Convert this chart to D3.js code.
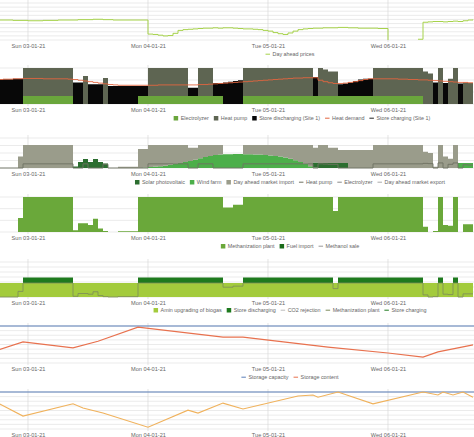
<!DOCTYPE html>
<html lang="en">
<head>
<meta charset="UTF-8">
<title>Energy system dispatch</title>
<script src="https://d3js.org/d3.v7.min.js"></script>
<style>
  body { margin: 0; background: #fff; font-family: "Liberation Sans", Arial, sans-serif; }
  text { fill: #666; font-size: 5.4px; }
</style>
</head>
<body>
<svg id="chart" width="474" height="437"></svg>
<script>
// hourly values, starting Sat 02-01-21 18:00
const dayTicks = ["2021-01-03", "2021-01-04", "2021-01-05", "2021-01-06"];

const price = [54,54,54,53,53,53,52,52,52,53,53,53,54,54,54,54,55,55,55,56,56,55,55,54,54,54,54,54,54,54,
  16,15,13,11,12,18,26,28,29,30,31,32,32,33,32,33,33,32,31,30,30,29,28,26,24,20,17,15,19,24,28,30,31,32,32,33,33,33,34,34,33,33,32,32,32,32,31,31,
  0,null,null,null,null,null,2,48,49,50,50,49,50,51,50,52,54,55];

const electrolyzer = [0,0,0,0,0,22,22,22,22,22,22,22,22,22,22,0,0,0,0,0,0,0,0,0,0,0,0,0,22,22,
  22,22,22,22,22,22,22,22,22,22,22,22,22,22,22,0,0,0,0,22,22,22,22,22,22,22,22,22,22,22,22,22,22,22,22,22,22,22,
  22,22,22,22,22,22,22,22,22,22,22,22,22,22,22,22,22,0,0,0,0,0,0,0,0,0,0,0];
const heatPump = [0,0,0,0,0,78,78,78,78,78,78,78,78,78,78,0,0,78,0,0,0,72,0,0,0,0,0,0,0,0,
  78,78,78,78,78,78,78,78,0,0,78,78,78,0,0,0,0,0,0,78,78,78,78,78,78,78,78,78,78,78,78,78,78,0,78,74,68,68,
  0,0,0,0,0,0,0,78,78,78,78,78,78,78,78,78,78,90,85,0,100,0,70,100,0,60,58,58];
const storeDischarging = [68,69,69,70,70,0,0,0,0,0,0,0,0,0,0,60,60,0,55,55,55,0,50,50,50,50,50,50,28,28,
  0,0,0,0,0,0,0,0,23,23,0,0,0,36,36,60,62,64,66,0,0,0,0,0,0,0,0,0,0,0,0,0,0,53,0,0,0,0,
  33,35,38,42,46,48,48,0,0,0,0,0,0,0,0,0,0,0,0,60,0,58,0,0,57,0,0,0];
const heatDemand = [68,69,69,70,70,71,71,71,71,70,70,70,70,70,69,68,66,64,62,60,58,56,54,53,52,52,52,52,52,52,
  52,52,53,53,53,53,53,53,53,53,54,54,55,56,57,58,59,60,61,62,
  63,64,65,66,67,68,69,70,71,72,72,73,73,73,66,62,59,57,
  57,58,60,62,65,68,70,70,70,70,70,70,69,69,68,68,67,67,66,65,64,63,62,61,60,60,59,59];

const solar = [0,0,0,0,0,0,0,0,0,0,0,0,0,0,0,6,26,39,26,39,26,20,0,0,0,0,0,0,0,0,
  0,0,0,0,0,0,0,0,0,0,0,0,0,0,0,0,0,0,0,0,0,0,0,0,0,0,0,0,0,0,0,0,0,22,22,22,22,22,
  22,22,0,0,0,0,0,0,0,0,0,0,0,0,0,0,0,0,0,0,0,0,0,0,0,0,0,0];
const wind = [0,0,0,0,0,0,0,0,0,0,0,0,0,0,0,0,0,0,0,0,0,0,0,0,0,0,0,0,0,2,
  4,6,8,10,14,18,22,26,30,36,42,48,52,56,58,60,60,61,61,60,60,59,58,56,54,52,50,46,40,34,26,18,8,2,0,0,0,0,
  0,0,0,0,0,0,0,0,0,0,0,0,0,0,0,0,0,0,0,0,0,0,0,0,22,22,22,22];
const marketImport = [0,0,0,0,50,100,100,100,100,100,100,100,100,100,100,0,0,0,0,0,0,0,0,0,5,5,5,5,82,80,
  96,94,92,90,86,82,78,74,58,52,58,52,48,44,42,0,0,0,0,40,40,41,42,44,46,48,50,54,60,66,74,82,92,64,78,78,66,66,
  56,56,78,78,78,78,78,100,100,100,100,100,100,100,100,100,100,70,65,5,100,50,40,100,0,0,0,0];
const heatPumpLoad = [0,0,0,0,0,18,18,18,18,18,18,18,18,18,18,0,0,18,0,0,0,16,0,0,0,0,0,0,0,0,
  18,18,18,18,18,18,18,18,0,0,18,18,18,0,0,0,0,0,0,18,18,18,18,18,18,18,18,18,18,18,18,18,18,0,18,17,16,16,
  0,0,0,0,0,0,0,18,18,18,18,18,18,18,18,18,18,20,19,0,22,0,16,22,0,14,13,13];

const methanization = [0,0,0,0,40,100,100,100,100,100,100,100,100,100,100,5,25,25,20,38,10,3,0,0,2,2,2,2,100,100,
  100,100,100,100,100,100,100,100,100,100,100,100,100,100,100,70,70,78,78,100,100,100,100,100,100,100,100,100,100,100,100,100,100,100,100,100,100,60,
  100,100,100,100,100,100,100,100,100,100,100,100,100,100,100,100,100,15,0,3,100,20,18,100,0,22,22,22];

const aminUpgrading = new Array(96).fill(40);
const gasStoreDischarging = [0,0,0,0,0,16,16,16,16,16,16,16,16,16,16,0,0,0,0,0,0,0,0,0,0,0,0,0,16,16,
  16,16,16,16,16,16,16,16,16,16,16,16,16,16,16,0,0,0,0,16,16,16,16,16,16,16,16,16,16,16,16,16,16,16,16,16,16,0,
  16,16,16,16,16,16,16,16,16,16,16,16,16,16,16,16,16,0,0,0,16,0,0,16,0,0,0,0];
const methanizationGas = [0,0,0,0,16,40,40,40,40,40,40,40,40,40,40,2,10,10,8,15,4,1,0,0,1,1,1,1,40,40,
  40,40,40,40,40,40,40,40,40,40,40,40,40,40,40,28,28,31,31,40,40,40,40,40,40,40,40,40,40,40,40,40,40,40,40,40,40,24,
  40,40,40,40,40,40,40,40,40,40,40,40,40,40,40,40,40,6,0,1,40,8,7,40,0,9,9,9];

// storage content read at [hour, % of capacity]
const heatStorage = [[0,35],[5,57],[15,41],[20,59],[28,97],[45,70],[49,70],[66,43],[78,27],[85,16],[88,30],[95,49]];
const gasStorage = [[0,70],[5,35],[15,68],[17.4,57],[21.8,43],[30,5],[38.4,51],[40.4,43],[45.4,70],[49,54],
  [60.4,89],[63.4,92],[64.4,86],[68,100],[75,68],[85.4,100],[88,92],[89.4,100],[91.4,92],[93.2,100],[95.2,86]];

const svg = d3.select("#chart");
const t0 = new Date(2021, 0, 2, 18);
const hour = i => d3.timeHour.offset(t0, i);
const x = d3.scaleTime().domain([hour(0), hour(95)]).range([-2, 473]);

function panel(top, bottom, ymax, nGrid) {
  const y = d3.scaleLinear().domain([0, ymax]).range([bottom, top]);
  const g = svg.append("g");
  g.selectAll(".h").data(d3.range(nGrid + 1)).join("line")
    .attr("x1", 0).attr("x2", 474)
    .attr("y1", k => top + (bottom - top) * k / nGrid).attr("y2", k => top + (bottom - top) * k / nGrid)
    .attr("stroke", "#e2e2e2").attr("stroke-width", 0.7);
  g.selectAll(".v").data(dayTicks).join("line")
    .attr("x1", d => x(new Date(d + "T00:00"))).attr("x2", d => x(new Date(d + "T00:00")))
    .attr("y1", top - 3).attr("y2", bottom + 2)
    .attr("stroke", "#d8d8d8").attr("stroke-width", 0.7);
  const axis = d3.axisBottom(x).tickValues(dayTicks.map(d => new Date(d + "T00:00")))
    .tickFormat(d3.timeFormat("%a %d-%m-%y")).tickSize(0).tickPadding(4);
  const ax = svg.append("g").attr("transform", `translate(0,${bottom})`).call(axis);
  ax.select(".domain").remove();
  ax.selectAll("text").style("font-size", "5.6px").attr("fill", "#666");
  return { g, y };
}

function stackAreas(p, series, colors) {
  const rows = d3.range(96).map(i => { const r = { i }; series.forEach((s, k) => r[k] = s[i]); return r; });
  const st = d3.stack().keys(series.map((s, k) => k))(rows);
  const area = d3.area().curve(d3.curveStepAfter)
    .x(d => x(hour(d.data.i))).y0(d => p.y(d[0])).y1(d => p.y(d[1]));
  p.g.selectAll(null).data(st).join("path").attr("d", area).attr("fill", (d, k) => colors[k]);
}

function lineOf(p, values, color, curve, w) {
  const l = d3.line().defined(d => d != null).curve(curve)
    .x((d, i) => x(hour(i))).y(d => p.y(d));
  p.g.append("path").datum(values).attr("d", l).attr("fill", "none")
    .attr("stroke", color).attr("stroke-width", w);
}

function pointLine(p, pts, color) {
  const l = d3.line().x(d => x(hour(d[0]))).y(d => p.y(d[1]));
  p.g.append("path").datum(pts).attr("d", l).attr("fill", "none").attr("stroke", color).attr("stroke-width", 1.1);
}

// centred legend row
function legend(cx, y0, items) {
  const g = svg.append("g");
  let px = 0;
  items.forEach(it => {
    if (it.type === "rect") g.append("rect").attr("x", px).attr("y", y0 - 4).attr("width", 4.5).attr("height", 4.5).attr("fill", it.color);
    else g.append("line").attr("x1", px).attr("x2", px + 4.5).attr("y1", y0 - 1.8).attr("y2", y0 - 1.8).attr("stroke", it.color).attr("stroke-width", 1);
    const t = g.append("text").attr("x", px + 7).attr("y", y0).text(it.label);
    px += 7 + t.node().getComputedTextLength() + 5;
  });
  g.attr("transform", `translate(${cx - (px - 5) / 2},0)`);
}

// 1: prices
const p1 = panel(3, 40, 100, 9);
lineOf(p1, price, "#a6d24a", d3.curveStepAfter, 1);
legend(290, 56, [{ type: "line", color: "#a6d24a", label: "Day ahead prices" }]);

// 2: heat
const p2 = panel(68, 104, 100, 3);
stackAreas(p2, [electrolyzer, heatPump, storeDischarging], ["#6aa63c", "#5e6552", "#080808"]);
lineOf(p2, heatDemand, "#e2653f", d3.curveStepAfter, 0.9);
legend(302, 120, [
  { type: "rect", color: "#6aa63c", label: "Electrolyzer" },
  { type: "rect", color: "#5e6552", label: "Heat pump" },
  { type: "rect", color: "#080808", label: "Store discharging (Site 1)" },
  { type: "line", color: "#e2653f", label: "Heat demand" },
  { type: "line", color: "#222", label: "Store charging (Site 1)" }]);

// 3: electricity
const p3 = panel(138, 168, 130, 4);
stackAreas(p3, [wind, solar, marketImport], ["#4caf4a", "#2c6e30", "#9a9c8b"]);
lineOf(p3, heatPumpLoad, "#6e7262", d3.curveStepAfter, 0.9);
legend(290, 184, [
  { type: "rect", color: "#2c6e30", label: "Solar photovoltaic" },
  { type: "rect", color: "#4caf4a", label: "Wind farm" },
  { type: "rect", color: "#9a9c8b", label: "Day ahead market import" },
  { type: "line", color: "#6e7262", label: "Heat pump" },
  { type: "line", color: "#888", label: "Electrolyzer" },
  { type: "line", color: "#aaa", label: "Day ahead market export" }]);

// 4: methanization
const p4 = panel(197, 232, 100, 3);
stackAreas(p4, [methanization], ["#6aa83a"]);
legend(290, 248, [
  { type: "rect", color: "#6aa83a", label: "Methanization plant" },
  { type: "rect", color: "#1a6b1a", label: "Fuel import" },
  { type: "line", color: "#999", label: "Methanol sale" }]);

// 5: gas
const p5 = panel(262, 297, 100, 7);
stackAreas(p5, [aminUpgrading, gasStoreDischarging], ["#a3cb3c", "#1e7a1e"]);
lineOf(p5, methanizationGas, "#7c8a5a", d3.curveStepAfter, 0.8);
legend(290, 312, [
  { type: "rect", color: "#a3cb3c", label: "Amin upgrading of biogas" },
  { type: "rect", color: "#1e7a1e", label: "Store discharging" },
  { type: "line", color: "#bbb", label: "CO2 rejection" },
  { type: "line", color: "#7c8a5a", label: "Methanization plant" },
  { type: "line", color: "#1e7a1e", label: "Store charging" }]);

// 6: heat storage
const p6 = panel(326, 363, 100, 8);
p6.g.append("line").attr("x1", 0).attr("x2", 474).attr("y1", p6.y(100)).attr("y2", p6.y(100)).attr("stroke", "#5b7fb8").attr("stroke-width", 1.2);
pointLine(p6, heatStorage, "#e8714e");
legend(290, 379, [
  { type: "line", color: "#5b7fb8", label: "Storage capacity" },
  { type: "line", color: "#e8714e", label: "Storage content" }]);

// 7: gas storage
const p7 = panel(392, 429, 100, 8);
p7.g.append("line").attr("x1", 0).attr("x2", 474).attr("y1", p7.y(100)).attr("y2", p7.y(100)).attr("stroke", "#5b7fb8").attr("stroke-width", 1.2);
pointLine(p7, gasStorage, "#f0b25c");
</script>
</body>
</html>
